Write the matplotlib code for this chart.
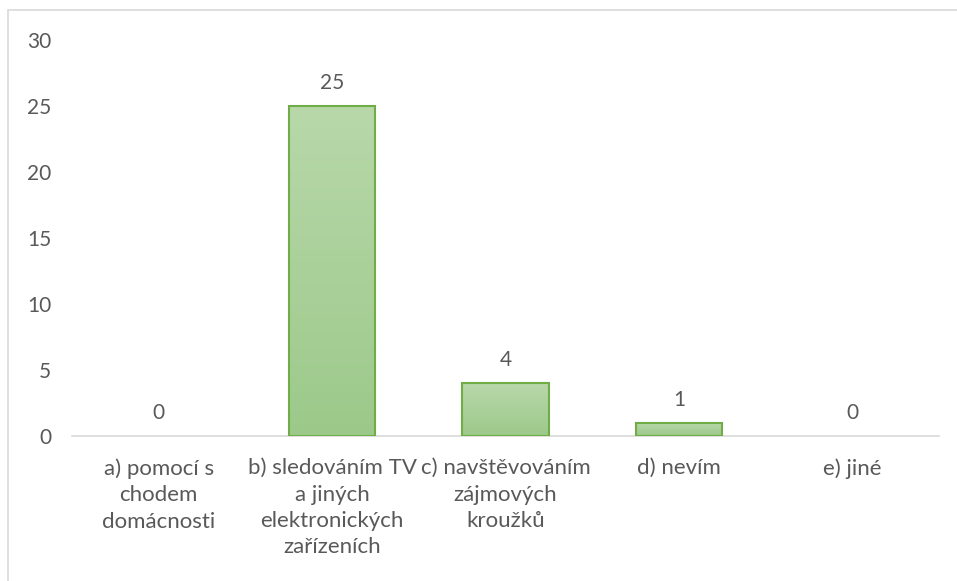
import matplotlib.pyplot as plt
import numpy as np
from matplotlib.patches import Rectangle
from matplotlib.colors import LinearSegmentedColormap

categories = [
    "a) pomocí s\nchodem\ndomácnosti",
    "b) sledováním TV\na jiných\nelektronických\nzařízeních",
    "c) navštěvováním\nzájmových\nkroužků",
    "d) nevím",
    "e) jiné",
]
values = [0, 25, 4, 1, 0]
y_ticks = [0, 5, 10, 15, 20, 25, 30]

text_color = "#595959"
edge_color = "#70ad47"
plt.rcParams['font.family'] = ['Lato', 'DejaVu Sans']

fig = plt.figure(figsize=(9.57, 5.81), dpi=100)
ax = fig.add_axes([72 / 957, 1 - 436 / 581, (939 - 72) / 957, (436 - 40) / 581])

x = np.arange(len(categories))
# zero-height bars are not drawn (no outline) like in the original
edges = [edge_color if v > 0 else "none" for v in values]
bars = ax.bar(x, values, width=0.5, color="none", edgecolor=edges, linewidth=1.5, zorder=3)

# vertical gradient fill, light at top, a bit darker at bottom
grad = np.linspace(0, 1, 256).reshape(-1, 1)
cmap = LinearSegmentedColormap.from_list("g", ["#9cc98a", "#b8d8aa"])
for b in bars:
    h = b.get_height()
    if h <= 0:
        continue
    x0 = b.get_x()
    w = b.get_width()
    im = ax.imshow(grad, cmap=cmap, aspect="auto", origin="lower",
                   extent=[x0, x0 + w, 0, h], zorder=2)
    im.set_clip_path(b)

for xi, v in zip(x, values):
    ax.text(xi, v + 1.0, str(v), ha="center", va="bottom", fontsize=15, color=text_color)

ax.set_xlim(-0.5, len(categories) - 0.5)
ax.set_ylim(0, 30)
ax.set_yticks(y_ticks)
ax.set_xticks(x)
ax.set_xticklabels(categories, fontsize=16, color=text_color, linespacing=1.4)
ax.tick_params(axis="y", length=0, pad=15, labelsize=15, labelcolor=text_color)
ax.tick_params(axis="x", length=0, pad=16)

for s in ["top", "right", "left"]:
    ax.spines[s].set_visible(False)
ax.spines["bottom"].set_color("#d9d9d9")
ax.spines["bottom"].set_linewidth(1.2)

# chart area border (cut off at right and bottom in the reference)
fig.patches.append(Rectangle((8 / 957, -0.1), 1.2, 1 - 10 / 581 + 0.1, transform=fig.transFigure,
                             fill=False, edgecolor="#d9d9d9", linewidth=1.2))

fig.savefig("out.png", dpi=100)
